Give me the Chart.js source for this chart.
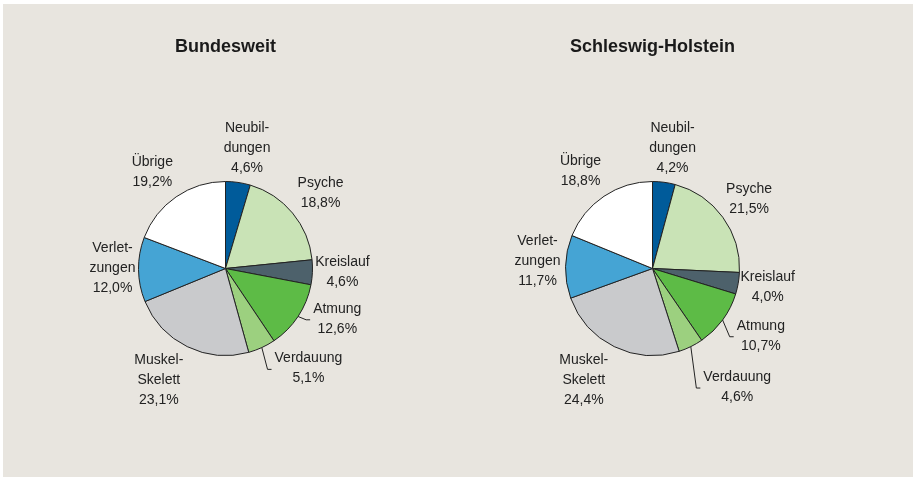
<!DOCTYPE html>
<html>
<head>
<meta charset="utf-8">
<script src="https://cdn.jsdelivr.net/npm/chart.js@4.4.0/dist/chart.umd.min.js"></script>
<style>
  html { margin: 0; padding: 0; background: #ffffff; overflow: hidden; }
  body {
    margin: 4px 0 0 3px; padding: 0;
    width: 920px; height: 480px; overflow: hidden;
    background: #e8e5df;
    position: relative;
  }
  canvas { position: absolute; top: -4px; }
  #pieBund { left: -3px; }
  #pieSH { left: 453px; }
</style>
</head>
<body>
<canvas id="pieBund" width="456" height="477"></canvas>
<canvas id="pieSH" width="457" height="477"></canvas>
<script>
// Diagnosegruppen (im Uhrzeigersinn ab 12 Uhr)
const categories = ["Neubil-\ndungen", "Psyche", "Kreislauf", "Atmung", "Verdauung", "Muskel-\nSkelett", "Verlet-\nzungen", "Übrige"];

// Anteile in Prozent
const bundesweit = [4.6, 18.8, 4.6, 12.6, 5.1, 23.1, 12.0, 19.2];
const schleswigHolstein = [4.2, 21.5, 4.0, 10.7, 4.6, 24.4, 11.7, 18.8];

const titles = ["Bundesweit", "Schleswig-Holstein"];

const sliceColors = ["#005b9a", "#c9e3b6", "#4d616b", "#5dbb46", "#9cd07f", "#c9cacc", "#45a4d4", "#ffffff"];

// label layout tweaks (dx, dy) relative to the default spot on the mid angle
const nudgeBund = [[4, 0], [1, 2], [-5, -2], [10, -17], [32, -11], [-13, 2], [9, -2], [-4, 4]];
const nudgeSH = [[4, 1], [-2, 3], [-5, -2], [10, -5], [31, 9], [-15, 2], [7, -5], [-4, 4]];
const leaderSlices = [3, 4];

const FONT = '"Liberation Sans", Arial, sans-serif';

function fmt(v) {
    return v.toFixed(1).replace('.', ',') + '%';
}

// draws title, outside labels and leader lines
const pieLabels = {
    id: 'pieLabels',
    afterDatasetsDraw(chart, args, opts) {
        const ctx = chart.ctx;
        const meta = chart.getDatasetMeta(0);
        const values = chart.data.datasets[0].data;
        const first = meta.data[0];

        ctx.save();
        ctx.fillStyle = '#1a1a1a';
        ctx.textAlign = 'center';
        ctx.textBaseline = 'middle';
        ctx.font = 'bold 18px ' + FONT;
        ctx.fillText(opts.title, first.x, 47);

        ctx.font = '14px ' + FONT;
        ctx.fillStyle = '#222222';
        meta.data.forEach((arc, i) => {
            const mid = (arc.startAngle + arc.endAngle) / 2;
            const dist = arc.outerRadius + 35;
            const cx = arc.x + Math.cos(mid) * dist + opts.nudge[i][0];
            const cy = arc.y + Math.sin(mid) * dist + opts.nudge[i][1];
            const lines = chart.data.labels[i].split('\n').concat(fmt(values[i]));
            const lh = 20;
            let maxW = 0;
            lines.forEach((t, k) => {
                ctx.fillText(t, cx, cy + (k - (lines.length - 1) / 2) * lh);
                maxW = Math.max(maxW, ctx.measureText(t).width);
            });

            if (leaderSlices.includes(i)) {
                const left = cx - maxW / 2;
                const sx = arc.x + Math.cos(mid) * arc.outerRadius;
                const sy = arc.y + Math.sin(mid) * arc.outerRadius;
                ctx.beginPath();
                ctx.strokeStyle = '#222';
                ctx.lineWidth = 1;
                ctx.moveTo(sx, sy);
                ctx.lineTo(left - 7, cy + 1);
                ctx.lineTo(left - 3, cy + 1);
                ctx.stroke();
            }
        });
        ctx.restore();
    }
};

function makePie(id, values, title, nudge, padding) {
    const ctx = document.getElementById(id).getContext('2d');
    return new Chart(ctx, {
        type: 'pie',
        data: {
            labels: categories,
            datasets: [
                {
                    data: values,
                    backgroundColor: sliceColors,
                    borderColor: '#222222',
                    borderWidth: 1,
                },
            ],
        },
        options: {
            responsive: false,
            animation: false,
            devicePixelRatio: 1,
            layout: { padding: padding },
            plugins: {
                legend: { display: false },
                tooltip: { enabled: false },
                pieLabels: { title: title, nudge: nudge },
            },
        },
        plugins: [pieLabels],
    });
}

makePie('pieBund', bundesweit, titles[0], nudgeBund, { left: 138, right: 143, top: 181, bottom: 121 });
makePie('pieSH', schleswigHolstein, titles[1], nudgeSH, { left: 109, right: 173, top: 181, bottom: 121 });
</script>
</body>
</html>
